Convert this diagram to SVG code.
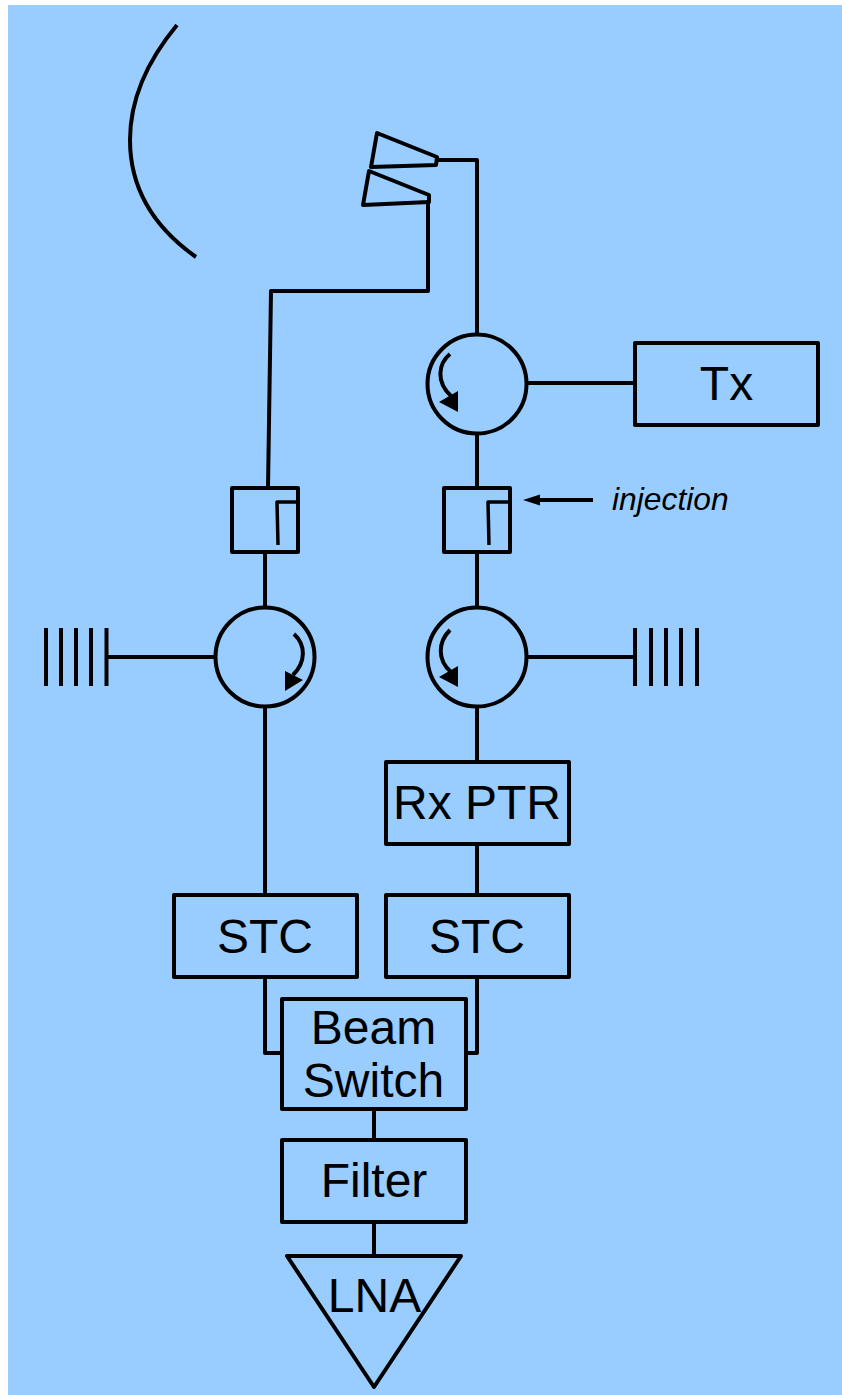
<svg xmlns="http://www.w3.org/2000/svg" width="842" height="1395" viewBox="0 0 842 1395">
<style>
.s{fill:none;stroke:#000;stroke-width:4;stroke-linejoin:round}
.b{fill:none;stroke:#000;stroke-width:3.500;stroke-linejoin:round}
.a{fill:#000;stroke:none}
.t{font-family:"Liberation Sans",Arial,sans-serif;font-size:48px;fill:#000;text-anchor:middle}
.i{font-family:"Liberation Sans",Arial,sans-serif;font-size:31.800px;font-style:italic;fill:#000}
</style>
<rect width="842" height="1395" fill="#fff"/>
<rect x="8" y="5" width="834" height="1390" fill="#99ccff"/>
<g id="connectors" class="s">
<path d="M477 334V160H437"/>
<path d="M428 200L428 291H271L268 488"/>
<path d="M477 434V488"/>
<path d="M477 552V607"/>
<path d="M265 552V606"/>
<path d="M528 383H635"/>
<path d="M215 657H106"/>
<path d="M527 657H635"/>
<path d="M265 707V895"/>
<path d="M477 707V762"/>
<path d="M477 844V895"/>
<path d="M265 977V1053H282"/>
<path d="M477 977V1053H466"/>
<path d="M374 1109V1140"/>
<path d="M374 1222V1256"/>
<path d="M593 500H538"/>
</g>
<path class="a" d="M523 500L540 494.500V505.500Z"/>
<g id="dish"><path class="s" d="M177 25C148 60 130 100 130 140C130 190 155 228 196 257"/></g>
<g id="horn1"><path class="s" d="M377 133L437 157L436 165L371 167Z"/></g>
<g id="horn2"><path class="s" d="M369 171L429 195V202L363 205Z"/></g>
<g id="circulator-tx">
<circle class="s" cx="477" cy="384" r="49.500"/>
<path class="s" d="M450 354C438 364 436 382 451 396"/>
<path class="a" d="M439 402L458 391V412Z"/>
</g>
<g id="tx"><rect class="s" x="635" y="343" width="183" height="82"/><text class="t" x="726.500" y="400">Tx</text></g>
<g id="coupler-right">
<rect class="s" x="444" y="488" width="66" height="64"/>
<path class="b" d="M489 545L488 502H510"/>
</g>
<g id="coupler-left">
<rect class="s" x="232" y="488" width="66" height="64"/>
<path class="b" d="M278 545L277 502H298"/>
</g>
<text class="i" x="612" y="510">injection</text>
<g id="circulator-left">
<circle class="s" cx="265" cy="657" r="49.500"/>
<path class="s" d="M294 634C306 645 306 662 293 675"/>
<path class="a" d="M303 680L285 671V691Z"/>
</g>
<g id="circulator-right">
<circle class="s" cx="477" cy="657" r="49.500"/>
<path class="s" d="M450 630C438 642 437 660 451 672"/>
<path class="a" d="M439 677L458 666V687Z"/>
</g>
<g id="load-left" class="s"><path d="M46 628V686M61 628V686M76 628V686M91 628V686M106.500 628V686"/></g>
<g id="load-right" class="s"><path d="M635 628V686M651 628V686M666 628V686M681 628V686M697 628V686"/></g>
<g id="rx-ptr"><rect class="s" x="386" y="762" width="183" height="82"/><text class="t" x="477" y="819">Rx PTR</text></g>
<g id="stc-left"><rect class="s" x="174" y="895" width="183" height="82"/><text class="t" x="265" y="953">STC</text></g>
<g id="stc-right"><rect class="s" x="386" y="895" width="183" height="82"/><text class="t" x="477" y="953">STC</text></g>
<g id="beam-switch"><rect class="s" x="282" y="999" width="184" height="110"/><text class="t" x="373.500" y="1044">Beam</text><text class="t" x="373.500" y="1097">Switch</text></g>
<g id="filter"><rect class="s" x="282" y="1140" width="184" height="82"/><text class="t" x="374" y="1197">Filter</text></g>
<g id="lna"><path class="s" d="M287 1256H461L374 1387Z"/><text class="t" x="374.500" y="1311.500">LNA</text></g>
</svg>
